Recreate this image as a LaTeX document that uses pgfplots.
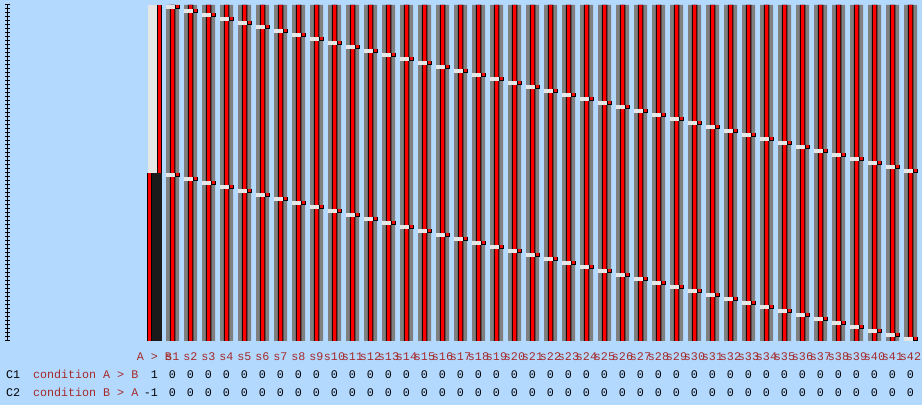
\documentclass[border=0pt]{standalone}
\usepackage{pgfplots}
\pgfplotsset{compat=1.18}
\usepackage{pgfplotstable}
\usepackage{fontspec}
\setmainfont{Liberation Mono}
\definecolor{bgblue}{HTML}{B3D9FF}
\definecolor{cgray}{HTML}{808080}
\definecolor{lgray}{HTML}{E6E6E6}
\definecolor{dgray}{HTML}{1A1A1A}
\definecolor{brn}{HTML}{A52A2A}
\pgfdeclareplotmark{cellmk}{%
  \pgfpathrectangle{\pgfpoint{-6.5bp}{-2bp}}{\pgfpoint{9bp}{4bp}}%
  \pgfsetfillcolor{lgray}\pgfusepath{fill}%
  \pgfpathrectangle{\pgfpoint{2.5bp}{-2bp}}{\pgfpoint{4.5bp}{4bp}}%
  \pgfsetfillcolor{black}\pgfusepath{fill}%
  \pgfpathrectangle{\pgfpoint{3.3bp}{-1.5bp}}{\pgfpoint{3bp}{3bp}}%
  \pgfsetfillcolor{red}\pgfusepath{fill}%
}
% column centre, bar height, row centre of upper and lower marker
\pgfplotstableread{
x h top bot
172.5 336 334 166
190.5 336 330 162
208.5 336 326 158
226.5 336 322 154
244.5 336 318 150
262.5 336 314 146
280.5 336 310 142
298.5 336 306 138
316.5 336 302 134
334.5 336 298 130
352.5 336 294 126
370.5 336 290 122
388.5 336 286 118
406.5 336 282 114
424.5 336 278 110
442.5 336 274 106
460.5 336 270 102
478.5 336 266 98
496.5 336 262 94
514.5 336 258 90
532.5 336 254 86
550.5 336 250 82
568.5 336 246 78
586.5 336 242 74
604.5 336 238 70
622.5 336 234 66
640.5 336 230 62
658.5 336 226 58
676.5 336 222 54
694.5 336 218 50
712.5 336 214 46
730.5 336 210 42
748.5 336 206 38
766.5 336 202 34
784.5 336 198 30
802.5 336 194 26
820.5 336 190 22
838.5 336 186 18
856.5 336 182 14
874.5 336 178 10
892.5 336 174 6
910.5 336 170 2
}\cols
\begin{document}
\begin{tikzpicture}
\begin{axis}[
  scale only axis, width=922bp, height=405bp,
  xmin=0, xmax=922, ymin=-64, ymax=341,
  hide axis, clip=false,
]
% background
\addplot[fill=bgblue, draw=none] coordinates {(0,-64) (922,-64) (922,341) (0,341) (0,-64)};
% s columns
\addplot[ybar, bar width=13, bar shift=0pt, fill=cgray, draw=none] table[x=x,y=h]{\cols};
\addplot[ybar, bar width=5.5, bar shift=0pt, fill=black, draw=none] table[x=x,y=h]{\cols};
\addplot[ybar, bar width=3.5, bar shift=0pt, fill=red, draw=none] table[x=x,y=h]{\cols};
% A > B column, upper half
\addplot[ybar, bar width=9, bar shift=0pt, fill=lgray, draw=none] coordinates {(152.5,336)};
\addplot[ybar, bar width=4.5, bar shift=0pt, fill=black, draw=none] coordinates {(159.25,336)};
\addplot[ybar, bar width=3, bar shift=0pt, fill=red, draw=none] coordinates {(159.5,336)};
% A > B column, lower half
\addplot[ybar, bar width=10, bar shift=0pt, fill=dgray, draw=none] coordinates {(157,168)};
\addplot[ybar, bar width=5, bar shift=0pt, fill=black, draw=none] coordinates {(149.5,168)};
\addplot[ybar, bar width=3, bar shift=0pt, fill=red, draw=none] coordinates {(149.5,168)};
% markers
\addplot[only marks, mark=cellmk] table[x=x,y=top]{\cols};
\addplot[only marks, mark=cellmk] table[x=x,y=bot]{\cols};
% left axis
\addplot[black, line width=1bp, no marks] coordinates {(7.5,0) (7.5,336)};
\addplot[only marks, mark=-, mark size=2.5bp, mark options={line width=1bp, black}] coordinates {
(7.5,0)(7.5,4)(7.5,8)(7.5,12)(7.5,16)(7.5,20)(7.5,24)(7.5,28)(7.5,32)(7.5,36)
(7.5,40)(7.5,44)(7.5,48)(7.5,52)(7.5,56)(7.5,60)(7.5,64)(7.5,68)(7.5,72)(7.5,76)
(7.5,80)(7.5,84)(7.5,88)(7.5,92)(7.5,96)(7.5,100)(7.5,104)(7.5,108)(7.5,112)(7.5,116)
(7.5,120)(7.5,124)(7.5,128)(7.5,132)(7.5,136)(7.5,140)(7.5,144)(7.5,148)(7.5,152)(7.5,156)
(7.5,160)(7.5,164)(7.5,168)(7.5,172)(7.5,176)(7.5,180)(7.5,184)(7.5,188)(7.5,192)(7.5,196)
(7.5,200)(7.5,204)(7.5,208)(7.5,212)(7.5,216)(7.5,220)(7.5,224)(7.5,228)(7.5,232)(7.5,236)
(7.5,240)(7.5,244)(7.5,248)(7.5,252)(7.5,256)(7.5,260)(7.5,264)(7.5,268)(7.5,272)(7.5,276)
(7.5,280)(7.5,284)(7.5,288)(7.5,292)(7.5,296)(7.5,300)(7.5,304)(7.5,308)(7.5,312)(7.5,316)
(7.5,320)(7.5,324)(7.5,328)(7.5,332)(7.5,336)};
\end{axis}
\begin{scope}[shift={(current axis.south west)}, x=1bp, y=1bp,
  every node/.style={inner sep=0pt, outer sep=0pt, font=\fontsize{11.7bp}{14bp}\selectfont}]
\node[anchor=base east, text=brn] at (172,45) {A > B};
\foreach \k in {1,...,42} {
  \node[anchor=base, text=brn] at ({172.5+18*(\k-1)},45) {s\k};
  \node[anchor=base east, text=black] at ({176+18*(\k-1)},27) {0};
  \node[anchor=base east, text=black] at ({176+18*(\k-1)},9) {0};
}
\node[anchor=base west, text=black] at (6,27) {C1};
\node[anchor=base west, text=brn] at (33,27) {condition A > B};
\node[anchor=base east, text=black] at (158,27) {1};
\node[anchor=base west, text=black] at (6,9) {C2};
\node[anchor=base west, text=brn] at (33,9) {condition B > A};
\node[anchor=base east, text=black] at (158,9) {-1};
\end{scope}
\pgfresetboundingbox
\path (current axis.south west) rectangle (current axis.north east);
\end{tikzpicture}
\end{document}
